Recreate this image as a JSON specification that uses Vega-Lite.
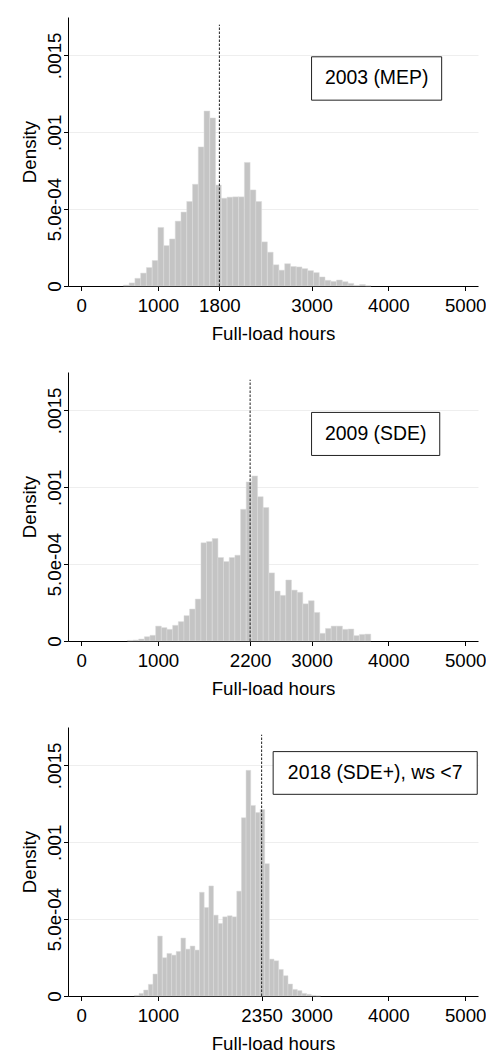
{
  "$schema": "https://vega.github.io/schema/vega-lite/v6.json",
  "background": "white",
  "padding": {"left": 20, "top": 17, "right": 0, "bottom": 0},
  "config": {
    "view": {"stroke": null},
    "font": "Liberation Sans",
    "axis": {
      "domainColor": "#000000", "domainWidth": 1, "tickColor": "#000000", "tickSize": 4.5, "tickWidth": 1,
      "labelFont": "Liberation Sans", "labelFontSize": 18.7, "labelColor": "#000000",
      "titleFont": "Liberation Sans", "titleFontSize": 18.7, "titleFontWeight": "normal", "titleColor": "#000000",
      "gridColor": "#eeeeee", "gridWidth": 1
    }
  },
  "datasets": {
    "h2003": [
      {"bin_start": 550, "bin_end": 625, "density": 0.000006},
      {"bin_start": 625, "bin_end": 700, "density": 0.00002},
      {"bin_start": 700, "bin_end": 775, "density": 0.00005},
      {"bin_start": 775, "bin_end": 850, "density": 0.000084},
      {"bin_start": 850, "bin_end": 925, "density": 0.00012},
      {"bin_start": 925, "bin_end": 1000, "density": 0.000166},
      {"bin_start": 1000, "bin_end": 1075, "density": 0.000381},
      {"bin_start": 1075, "bin_end": 1150, "density": 0.000263},
      {"bin_start": 1150, "bin_end": 1225, "density": 0.000306},
      {"bin_start": 1225, "bin_end": 1300, "density": 0.000422},
      {"bin_start": 1300, "bin_end": 1375, "density": 0.000481},
      {"bin_start": 1375, "bin_end": 1450, "density": 0.00055},
      {"bin_start": 1450, "bin_end": 1525, "density": 0.000662},
      {"bin_start": 1525, "bin_end": 1600, "density": 0.000905},
      {"bin_start": 1600, "bin_end": 1675, "density": 0.001138},
      {"bin_start": 1675, "bin_end": 1750, "density": 0.001093},
      {"bin_start": 1750, "bin_end": 1825, "density": 0.000657},
      {"bin_start": 1825, "bin_end": 1900, "density": 0.000571},
      {"bin_start": 1900, "bin_end": 1975, "density": 0.000578},
      {"bin_start": 1975, "bin_end": 2050, "density": 0.00058},
      {"bin_start": 2050, "bin_end": 2125, "density": 0.00058},
      {"bin_start": 2125, "bin_end": 2200, "density": 0.000804},
      {"bin_start": 2200, "bin_end": 2275, "density": 0.000625},
      {"bin_start": 2275, "bin_end": 2350, "density": 0.00055},
      {"bin_start": 2350, "bin_end": 2425, "density": 0.000287},
      {"bin_start": 2425, "bin_end": 2500, "density": 0.00022},
      {"bin_start": 2500, "bin_end": 2575, "density": 0.000138},
      {"bin_start": 2575, "bin_end": 2650, "density": 0.000103},
      {"bin_start": 2650, "bin_end": 2725, "density": 0.000145},
      {"bin_start": 2725, "bin_end": 2800, "density": 0.000127},
      {"bin_start": 2800, "bin_end": 2875, "density": 0.000124},
      {"bin_start": 2875, "bin_end": 2950, "density": 0.000113},
      {"bin_start": 2950, "bin_end": 3025, "density": 0.0001},
      {"bin_start": 3025, "bin_end": 3100, "density": 0.000087},
      {"bin_start": 3100, "bin_end": 3175, "density": 0.000059},
      {"bin_start": 3175, "bin_end": 3250, "density": 0.000037},
      {"bin_start": 3250, "bin_end": 3325, "density": 0.00003},
      {"bin_start": 3325, "bin_end": 3400, "density": 0.000039},
      {"bin_start": 3400, "bin_end": 3475, "density": 0.000028},
      {"bin_start": 3475, "bin_end": 3550, "density": 0.000017},
      {"bin_start": 3550, "bin_end": 3625, "density": 0.000004},
      {"bin_start": 3625, "bin_end": 3700, "density": 0.00001},
      {"bin_start": 3700, "bin_end": 3775, "density": 0.000002}
    ],
    "h2009": [
      {"bin_start": 602, "bin_end": 675, "density": 0.000004},
      {"bin_start": 675, "bin_end": 749, "density": 0.0000065},
      {"bin_start": 749, "bin_end": 823, "density": 0.000013},
      {"bin_start": 823, "bin_end": 896, "density": 0.000028},
      {"bin_start": 896, "bin_end": 970, "density": 0.000037},
      {"bin_start": 970, "bin_end": 1044, "density": 0.000097},
      {"bin_start": 1044, "bin_end": 1117, "density": 0.000087},
      {"bin_start": 1117, "bin_end": 1191, "density": 0.000076},
      {"bin_start": 1191, "bin_end": 1265, "density": 0.000102},
      {"bin_start": 1265, "bin_end": 1339, "density": 0.000126},
      {"bin_start": 1339, "bin_end": 1412, "density": 0.000165},
      {"bin_start": 1412, "bin_end": 1486, "density": 0.000208},
      {"bin_start": 1486, "bin_end": 1560, "density": 0.000273},
      {"bin_start": 1560, "bin_end": 1633, "density": 0.000639},
      {"bin_start": 1633, "bin_end": 1707, "density": 0.000647},
      {"bin_start": 1707, "bin_end": 1781, "density": 0.000667},
      {"bin_start": 1781, "bin_end": 1854, "density": 0.000543},
      {"bin_start": 1854, "bin_end": 1928, "density": 0.000517},
      {"bin_start": 1928, "bin_end": 2002, "density": 0.000543},
      {"bin_start": 2002, "bin_end": 2076, "density": 0.000558},
      {"bin_start": 2076, "bin_end": 2149, "density": 0.000857},
      {"bin_start": 2149, "bin_end": 2223, "density": 0.001035},
      {"bin_start": 2223, "bin_end": 2297, "density": 0.001074},
      {"bin_start": 2297, "bin_end": 2370, "density": 0.000939},
      {"bin_start": 2370, "bin_end": 2444, "density": 0.000868},
      {"bin_start": 2444, "bin_end": 2518, "density": 0.000443},
      {"bin_start": 2518, "bin_end": 2591, "density": 0.000325},
      {"bin_start": 2591, "bin_end": 2665, "density": 0.000297},
      {"bin_start": 2665, "bin_end": 2739, "density": 0.000397},
      {"bin_start": 2739, "bin_end": 2813, "density": 0.000331},
      {"bin_start": 2813, "bin_end": 2886, "density": 0.000317},
      {"bin_start": 2886, "bin_end": 2960, "density": 0.000242},
      {"bin_start": 2960, "bin_end": 3034, "density": 0.000262},
      {"bin_start": 3034, "bin_end": 3107, "density": 0.000186},
      {"bin_start": 3107, "bin_end": 3181, "density": 0.00005},
      {"bin_start": 3181, "bin_end": 3255, "density": 0.000082},
      {"bin_start": 3255, "bin_end": 3328, "density": 0.000097},
      {"bin_start": 3328, "bin_end": 3402, "density": 0.000097},
      {"bin_start": 3402, "bin_end": 3476, "density": 0.000076},
      {"bin_start": 3476, "bin_end": 3550, "density": 0.000078},
      {"bin_start": 3550, "bin_end": 3623, "density": 0.000035},
      {"bin_start": 3623, "bin_end": 3697, "density": 0.000043},
      {"bin_start": 3697, "bin_end": 3771, "density": 0.000045}
    ],
    "h2018": [
      {"bin_start": 693, "bin_end": 754, "density": 0.000004},
      {"bin_start": 754, "bin_end": 814, "density": 0.000017},
      {"bin_start": 814, "bin_end": 875, "density": 0.000039},
      {"bin_start": 875, "bin_end": 935, "density": 0.000076},
      {"bin_start": 935, "bin_end": 996, "density": 0.000143},
      {"bin_start": 996, "bin_end": 1057, "density": 0.00039},
      {"bin_start": 1057, "bin_end": 1117, "density": 0.000249},
      {"bin_start": 1117, "bin_end": 1178, "density": 0.000277},
      {"bin_start": 1178, "bin_end": 1238, "density": 0.000266},
      {"bin_start": 1238, "bin_end": 1299, "density": 0.00029},
      {"bin_start": 1299, "bin_end": 1360, "density": 0.000377},
      {"bin_start": 1360, "bin_end": 1420, "density": 0.000305},
      {"bin_start": 1420, "bin_end": 1481, "density": 0.000325},
      {"bin_start": 1481, "bin_end": 1541, "density": 0.000299},
      {"bin_start": 1541, "bin_end": 1602, "density": 0.000675},
      {"bin_start": 1602, "bin_end": 1663, "density": 0.000576},
      {"bin_start": 1663, "bin_end": 1723, "density": 0.000716},
      {"bin_start": 1723, "bin_end": 1784, "density": 0.000526},
      {"bin_start": 1784, "bin_end": 1844, "density": 0.000472},
      {"bin_start": 1844, "bin_end": 1905, "density": 0.000515},
      {"bin_start": 1905, "bin_end": 1966, "density": 0.000522},
      {"bin_start": 1966, "bin_end": 2026, "density": 0.000515},
      {"bin_start": 2026, "bin_end": 2087, "density": 0.000682},
      {"bin_start": 2087, "bin_end": 2147, "density": 0.00116},
      {"bin_start": 2147, "bin_end": 2208, "density": 0.001468},
      {"bin_start": 2208, "bin_end": 2269, "density": 0.00124},
      {"bin_start": 2269, "bin_end": 2329, "density": 0.001193},
      {"bin_start": 2329, "bin_end": 2390, "density": 0.001214},
      {"bin_start": 2390, "bin_end": 2450, "density": 0.000861},
      {"bin_start": 2450, "bin_end": 2511, "density": 0.00024},
      {"bin_start": 2511, "bin_end": 2572, "density": 0.000229},
      {"bin_start": 2572, "bin_end": 2632, "density": 0.000173},
      {"bin_start": 2632, "bin_end": 2693, "density": 0.000132},
      {"bin_start": 2693, "bin_end": 2753, "density": 0.000078},
      {"bin_start": 2753, "bin_end": 2814, "density": 0.000043},
      {"bin_start": 2814, "bin_end": 2875, "density": 0.000035},
      {"bin_start": 2875, "bin_end": 2935, "density": 0.000017},
      {"bin_start": 2935, "bin_end": 2996, "density": 0.000011},
      {"bin_start": 2996, "bin_end": 3056, "density": 0.000004},
      {"bin_start": 3056, "bin_end": 3117, "density": 0.000002}
    ]
  },
  "vconcat": [
    {
      "width": 410, "height": 269,
      "layer": [
        {
          "data": {"name": "h2003"},
          "mark": {"type": "bar", "fill": "#c4c4c4", "stroke": "#dddddd", "strokeWidth": 0.5, "orient": "vertical"},
          "encoding": {
            "x": {"field": "bin_start", "type": "quantitative", "scale": {"domain": [-106, 5102], "nice": false, "zero": false},
                  "axis": {"title": "Full-load hours", "values": [0, 1000, 1800, 3000, 4000, 5000], "format": "d", "grid": false, "labelPadding": 6, "titlePadding": 9, "labelFlush": false, "labelOverlap": false}},
            "x2": {"field": "bin_end"},
            "y": {"field": "density", "type": "quantitative", "scale": {"domain": [0, 0.00175], "nice": false},
                  "axis": {"title": "Density", "values": [0, 0.0005, 0.001, 0.0015], "grid": true, "labelAngle": -90, "labelAlign": "center", "labelBaseline": "alphabetic", "labelPadding": 3, "titlePadding": 6,
                           "labelExpr": "datum.value < 0.0001 ? '0' : datum.value < 0.0007 ? '5.0e-04' : datum.value < 0.0012 ? '.001' : '.0015'"}},
            "y2": {"datum": 0}
          }
        },
        {
          "data": {"values": [{"label": "2003 (MEP)", "ref": 1800}]},
          "mark": {"type": "rule", "color": "#222222", "strokeWidth": 1, "strokeDash": [2.5, 1.5]},
          "encoding": {"x": {"field": "ref", "type": "quantitative"}, "y": {"datum": 0}, "y2": {"datum": 0.0017}}
        },
        {
          "data": {"values": [{"label": "2003 (MEP)", "ref": 1800}]},
          "mark": {"type": "rect", "fill": "white", "stroke": "#222222", "strokeWidth": 1},
          "encoding": {"x": {"datum": 3000}, "x2": {"datum": 4694}, "y": {"datum": 0.001491}, "y2": {"datum": 0.001209}}
        },
        {
          "data": {"values": [{"label": "2003 (MEP)", "ref": 1800}]},
          "mark": {"type": "text", "fontSize": 19.4, "color": "#000000", "align": "center", "baseline": "middle"},
          "encoding": {"x": {"datum": 3847}, "y": {"datum": 0.00135}, "text": {"field": "label"}}
        }
      ]
    },
    {
      "width": 410, "height": 269,
      "layer": [
        {
          "data": {"name": "h2009"},
          "mark": {"type": "bar", "fill": "#c4c4c4", "stroke": "#dddddd", "strokeWidth": 0.5, "orient": "vertical"},
          "encoding": {
            "x": {"field": "bin_start", "type": "quantitative", "scale": {"domain": [-106, 5102], "nice": false, "zero": false},
                  "axis": {"title": "Full-load hours", "values": [0, 1000, 2200, 3000, 4000, 5000], "format": "d", "grid": false, "labelPadding": 6, "titlePadding": 9, "labelFlush": false, "labelOverlap": false}},
            "x2": {"field": "bin_end"},
            "y": {"field": "density", "type": "quantitative", "scale": {"domain": [0, 0.00175], "nice": false},
                  "axis": {"title": "Density", "values": [0, 0.0005, 0.001, 0.0015], "grid": true, "labelAngle": -90, "labelAlign": "center", "labelBaseline": "alphabetic", "labelPadding": 3, "titlePadding": 6,
                           "labelExpr": "datum.value < 0.0001 ? '0' : datum.value < 0.0007 ? '5.0e-04' : datum.value < 0.0012 ? '.001' : '.0015'"}},
            "y2": {"datum": 0}
          }
        },
        {
          "data": {"values": [{"label": "2009 (SDE)", "ref": 2200}]},
          "mark": {"type": "rule", "color": "#222222", "strokeWidth": 1, "strokeDash": [2.5, 1.5]},
          "encoding": {"x": {"field": "ref", "type": "quantitative"}, "y": {"datum": 0}, "y2": {"datum": 0.0017}}
        },
        {
          "data": {"values": [{"label": "2009 (SDE)", "ref": 2200}]},
          "mark": {"type": "rect", "fill": "white", "stroke": "#222222", "strokeWidth": 1},
          "encoding": {"x": {"datum": 3000}, "x2": {"datum": 4669}, "y": {"datum": 0.001487}, "y2": {"datum": 0.001207}}
        },
        {
          "data": {"values": [{"label": "2009 (SDE)", "ref": 2200}]},
          "mark": {"type": "text", "fontSize": 19.4, "color": "#000000", "align": "center", "baseline": "middle"},
          "encoding": {"x": {"datum": 3835}, "y": {"datum": 0.001347}, "text": {"field": "label"}}
        }
      ]
    },
    {
      "width": 410, "height": 269,
      "layer": [
        {
          "data": {"name": "h2018"},
          "mark": {"type": "bar", "fill": "#c4c4c4", "stroke": "#dddddd", "strokeWidth": 0.5, "orient": "vertical"},
          "encoding": {
            "x": {"field": "bin_start", "type": "quantitative", "scale": {"domain": [-106, 5102], "nice": false, "zero": false},
                  "axis": {"title": "Full-load hours", "values": [0, 1000, 2350, 3000, 4000, 5000], "format": "d", "grid": false, "labelPadding": 6, "titlePadding": 9, "labelFlush": false, "labelOverlap": false}},
            "x2": {"field": "bin_end"},
            "y": {"field": "density", "type": "quantitative", "scale": {"domain": [0, 0.00175], "nice": false},
                  "axis": {"title": "Density", "values": [0, 0.0005, 0.001, 0.0015], "grid": true, "labelAngle": -90, "labelAlign": "center", "labelBaseline": "alphabetic", "labelPadding": 3, "titlePadding": 6,
                           "labelExpr": "datum.value < 0.0001 ? '0' : datum.value < 0.0007 ? '5.0e-04' : datum.value < 0.0012 ? '.001' : '.0015'"}},
            "y2": {"datum": 0}
          }
        },
        {
          "data": {"values": [{"label": "2018 (SDE+), ws <7", "ref": 2350}]},
          "mark": {"type": "rule", "color": "#222222", "strokeWidth": 1, "strokeDash": [2.5, 1.5]},
          "encoding": {"x": {"field": "ref", "type": "quantitative"}, "y": {"datum": 0}, "y2": {"datum": 0.0017}}
        },
        {
          "data": {"values": [{"label": "2018 (SDE+), ws <7", "ref": 2350}]},
          "mark": {"type": "rect", "fill": "white", "stroke": "#222222", "strokeWidth": 1},
          "encoding": {"x": {"datum": 2500}, "x2": {"datum": 5157}, "y": {"datum": 0.00159}, "y2": {"datum": 0.001312}}
        },
        {
          "data": {"values": [{"label": "2018 (SDE+), ws <7", "ref": 2350}]},
          "mark": {"type": "text", "fontSize": 19.4, "color": "#000000", "align": "center", "baseline": "middle"},
          "encoding": {"x": {"datum": 3828}, "y": {"datum": 0.001451}, "text": {"field": "label"}}
        }
      ]
    }
  ],
  "bounds": "flush",
  "spacing": 86
}
